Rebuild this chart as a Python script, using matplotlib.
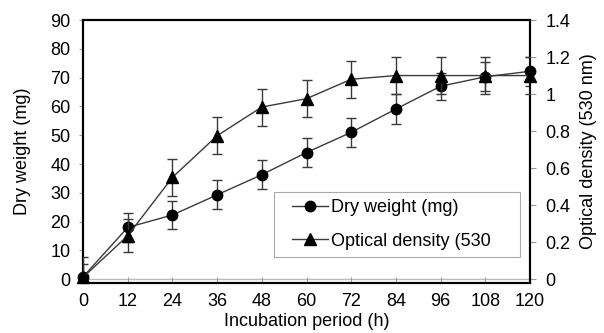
import matplotlib
matplotlib.use("Agg")
import matplotlib.pyplot as plt
from matplotlib.ticker import FuncFormatter
from matplotlib.patches import Rectangle

hours = [0, 12, 24, 36, 48, 60, 72, 84, 96, 108, 120]
dry_weight = [0.8, 18, 22.3, 29.3, 36.3, 44, 51, 59.1, 67, 70.3, 72.2]
dry_err = [4.5, 5, 5, 5, 5, 5, 5, 5.2, 4.6, 5, 5]
optical_density = [0.01, 0.235, 0.55, 0.775, 0.93, 0.975, 1.08, 1.10, 1.10, 1.10, 1.10]
od_err = [0.11, 0.09, 0.1, 0.1, 0.1, 0.1, 0.1, 0.1, 0.1, 0.1, 0.1]
x_ticks = [0, 12, 24, 36, 48, 60, 72, 84, 96, 108, 120]
left_ticks = [0, 10, 20, 30, 40, 50, 60, 70, 80, 90]
right_ticks = [0, 0.2, 0.4, 0.6, 0.8, 1.0, 1.2, 1.4]

plt.rcParams['font.family'] = ['Liberation Sans', 'DejaVu Sans']
FS = 13

fig = plt.figure(figsize=(6.04, 3.33), dpi=100)
ax = fig.add_axes([83/604, 1-283/333, (530-83)/604, (283-20)/333])
ax2 = ax.twinx()

lc = '#3a3a3a'
def draw(a, y, err, marker, ms):
    line, caps, bars = a.errorbar(hours, y, yerr=err, color=lc, lw=1.0, marker=marker,
                                  ms=ms, mfc='black', mec='black', ecolor=lc,
                                  elinewidth=1.0, capsize=3.5, capthick=1.0, zorder=3)
    line.set_clip_on(False)
    return line

l1 = draw(ax, dry_weight, dry_err, 'o', 7.5)
l2 = draw(ax2, optical_density, od_err, '^', 8)

ymin = -1.3
ax.set_ylim(ymin, 90)
ax2.set_ylim(ymin * 1.4 / 90, 1.4)
ax.set_xlim(0, 120)
ax.axhline(0, color='#bbbbbb', lw=1.0, zorder=1)

ax.set_xticks(x_ticks)
ax.set_yticks(left_ticks)
ax2.set_yticks(right_ticks)
ax2.yaxis.set_major_formatter(FuncFormatter(lambda v, p: ('%g' % round(v, 1))))

for a in (ax, ax2):
    for s in a.spines.values():
        s.set_linewidth(1.5)
        s.set_color('black')
ax.tick_params(axis='x', direction='in', length=4, color='#999999', labelsize=FS, pad=7)
ax.tick_params(axis='y', direction='out', length=3, color='#999999', labelsize=FS, pad=6)
ax2.tick_params(axis='y', direction='out', length=4, color='#999999', labelsize=FS, pad=7)

ax.set_xlabel('Incubation period (h)', fontsize=FS, labelpad=2)
ax.set_ylabel('Dry weight (mg)', fontsize=FS, labelpad=14)
ax2.set_ylabel('Optical density (530 nm)', fontsize=FS, labelpad=7)

# legend frame
bx0 = (274-83)/447
by0 = (283-257)/263
bw = (520-274)/447
bh = (257-192)/263
ax.add_patch(Rectangle((bx0, by0), bw, bh, transform=ax.transAxes, fill=True,
                       facecolor='white', edgecolor='#aaaaaa', lw=0.8, zorder=4))
leg = ax.legend([l1, l2], ['Dry weight (mg)', 'Optical density (530'],
                loc='center left', bbox_to_anchor=(bx0 + 0.04, by0 + bh/2),
                frameon=False, fontsize=FS, handlelength=2.0, handletextpad=0.15,
                labelspacing=0.9, borderpad=0, borderaxespad=0)
leg.set_zorder(5)

fig.savefig('out.png', dpi=100)
